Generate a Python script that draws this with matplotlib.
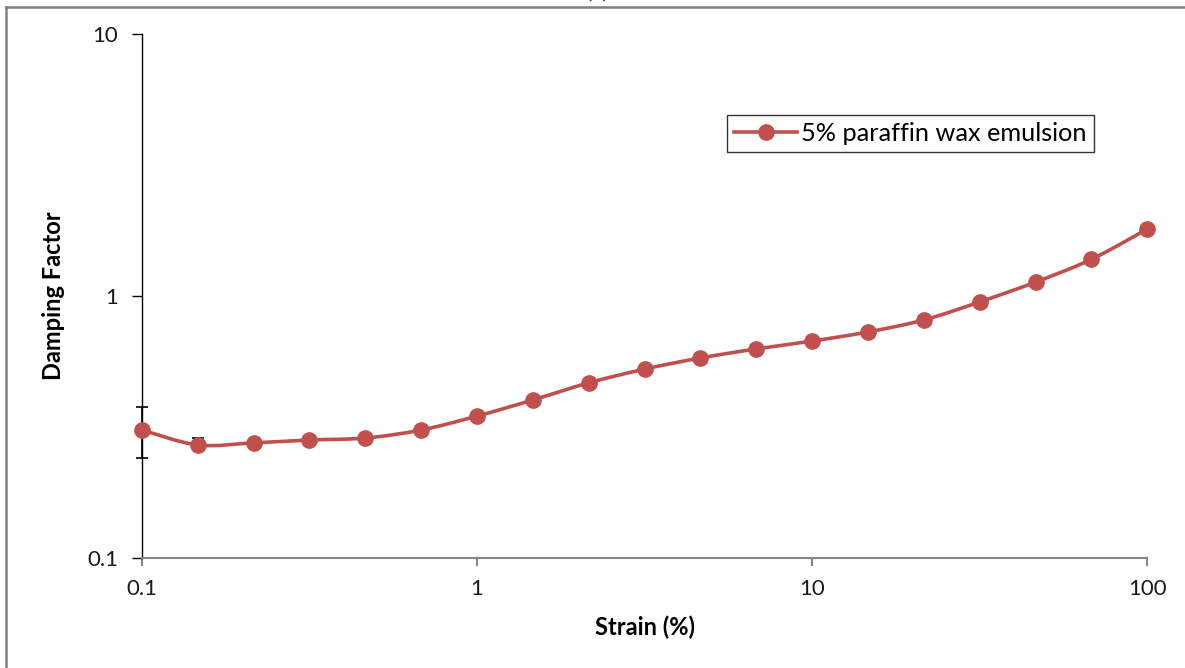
import matplotlib
matplotlib.use('Agg')
import matplotlib.pyplot as plt
import numpy as np
from matplotlib.path import Path
from matplotlib.patches import PathPatch
from matplotlib.lines import Line2D

plt.rcParams['font.family'] = ['Lato', 'DejaVu Sans']

# data
strain = [0.1, 0.1468, 0.2154, 0.3162, 0.4642, 0.6813, 1.0, 1.468, 2.154, 3.162,
          4.642, 6.813, 10.0, 14.68, 21.54, 31.62, 46.42, 68.13, 100.0]
damping = [0.308, 0.270, 0.275, 0.282, 0.287, 0.308, 0.348, 0.401, 0.466, 0.526,
           0.580, 0.628, 0.673, 0.729, 0.810, 0.949, 1.13, 1.38, 1.80]
err_low = [0.067, 0.01, 0.005, 0.005, 0.005, 0.005, 0.005, 0.005, 0.005, 0.005,
           0.005, 0.005, 0.005, 0.005, 0.005, 0.005, 0.005, 0.005, 0.005]
err_high = [0.069, 0.018, 0.005, 0.005, 0.005, 0.005, 0.005, 0.005, 0.005, 0.005,
            0.005, 0.005, 0.005, 0.005, 0.005, 0.005, 0.005, 0.005, 0.005]
label = '5% paraffin wax emulsion'
red = '#C0504D'

fig = plt.figure(figsize=(11.85, 6.68), dpi=100)
ax = fig.add_axes([0.1198, 0.1647, 0.8483, 0.7844])

# smooth line (Catmull-Rom -> Bezier in log space, like Excel's smoothed line)
lx = np.log10(strain)
ly = np.log10(damping)
n = len(lx)
verts = [(strain[0], damping[0])]
codes = [Path.MOVETO]
for i in range(n - 1):
    p0 = np.array([lx[max(i - 1, 0)], ly[max(i - 1, 0)]])
    p1 = np.array([lx[i], ly[i]])
    p2 = np.array([lx[i + 1], ly[i + 1]])
    p3 = np.array([lx[min(i + 2, n - 1)], ly[min(i + 2, n - 1)]])
    c1 = p1 + (p2 - p0) / 6
    c2 = p2 - (p3 - p1) / 6
    for c in (c1, c2, p2):
        verts.append((10 ** c[0], 10 ** c[1]))
    codes += [Path.CURVE4] * 3
ax.add_patch(PathPatch(Path(verts, codes), fill=False, edgecolor=red, lw=2.6,
                       capstyle='round', joinstyle='round', zorder=3, clip_on=False))

eb = ax.errorbar(strain, damping, yerr=[err_low, err_high], fmt='none', ecolor='black',
                 elinewidth=1.2, capsize=4, capthick=1.2, zorder=2.5)
for art in eb.lines[1] + eb.lines[2]:
    art.set_clip_on(False)
ax.plot(strain, damping, 'o', color=red, markersize=11, zorder=4, clip_on=False)

ax.set_xscale('log')
ax.set_yscale('log')
ax.set_xlim(0.1, 100)
ax.set_ylim(0.1, 10)
ax.set_xticks([0.1, 1, 10, 100])
ax.set_xticklabels(['0.1', '1', '10', '100'])
ax.set_yticks([0.1, 1, 10])
ax.set_yticklabels(['0.1', '1', '10'])
ax.minorticks_off()

for s in ['top', 'right']:
    ax.spines[s].set_visible(False)
ax.spines['left'].set_color('black')
ax.spines['left'].set_linewidth(1)
ax.spines['bottom'].set_color('#868686')
ax.spines['bottom'].set_linewidth(1.5)
ax.tick_params(axis='y', direction='out', length=7, width=1, color='black',
               labelsize=16, pad=10)
ax.tick_params(axis='x', direction='out', length=6, width=1.5, color='#868686',
               labelsize=16, pad=9)
for lab in ax.get_xticklabels() + ax.get_yticklabels():
    lab.set_color('#1a1a1a')

ax.set_xlabel('Strain (%)', fontsize=17, fontweight='bold', labelpad=12)
ax.set_ylabel('Damping Factor', fontsize=17, fontweight='bold', labelpad=16)

handle = Line2D([], [], color=red, lw=2.6, marker='o', markersize=11)
leg = ax.legend([handle], [label], loc='upper left', bbox_to_anchor=(0.582, 0.845),
                fontsize=18.2, frameon=True, fancybox=False, handlelength=2.5,
                handletextpad=0.15, borderpad=0.28, borderaxespad=0)
leg.get_frame().set_edgecolor('black')
leg.get_frame().set_linewidth(1)

# outer frame (left + top), title cut off at top
fig.add_artist(Line2D([5.5 / 1185, 5.5 / 1185], [0, 1 - 7 / 668], color='#808080',
                      lw=1.8, transform=fig.transFigure))
fig.add_artist(Line2D([5.5 / 1185, 1], [1 - 7 / 668, 1 - 7 / 668], color='#808080',
                      lw=1.8, transform=fig.transFigure))
fig.text(597 / 1185, 1 + 3 / 668, '(c)', ha='center', va='baseline', fontsize=16,
         family=['Liberation Serif', 'DejaVu Serif'])

fig.savefig('out.png', dpi=100)
